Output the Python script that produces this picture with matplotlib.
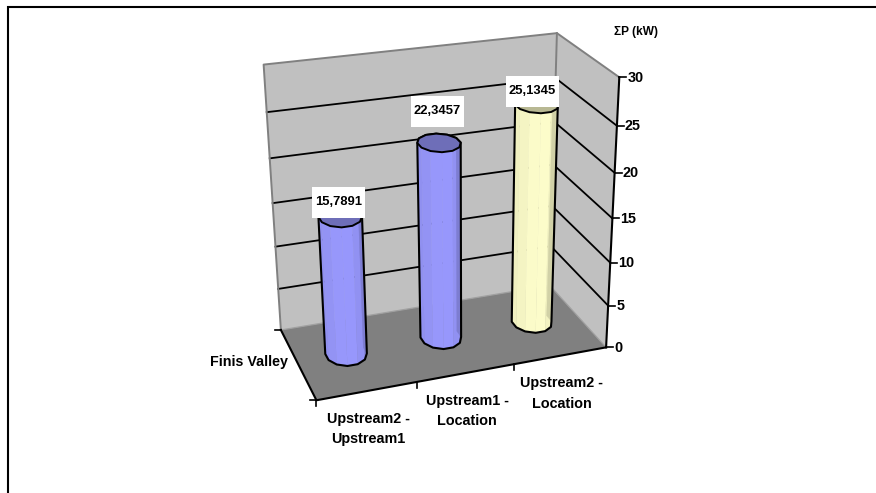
# plot.py -- 3D cylinder chart of total power per river section, drawn with a projective camera
import numpy as np
import matplotlib
matplotlib.use("Agg")
import matplotlib.pyplot as plt
from matplotlib.patches import Polygon, Rectangle

# ========================= DATA =========================
categories = ["Upstream2 -\nUpstream1", "Upstream1 -\nLocation", "Upstream2 -\nLocation"]
values = [15.7891, 22.3457, 25.1345]
value_labels = ["15,7891", "22,3457", "25,1345"]
y_ticks = [0, 5, 10, 15, 20, 25, 30]
series_name = "Finis Valley"
y_title = "ΣP (kW)"

# ========================= STYLE =========================
WALL = "#C0C0C0"
FLOOR = "#808080"
EDGE = "#808080"
BLUE = np.array([0x99, 0x99, 0xFF]) / 255
YELLOW = np.array([0xFF, 0xFF, 0xCC]) / 255
bar_colors = [BLUE, BLUE, YELLOW]
label_offsets = [(-1.5, -14.5), (-1.5, -31.5), (-4, -13.5)]
FONT = "Liberation Sans"

# Camera: box corners (x, depth, value) and where they land on the canvas
corners = [(0, 0, 0), (1, 0, 0), (0, 1, 0), (1, 1, 0), (0, 1, 30), (1, 1, 30), (1, 0, 30)]
canvas = [(317, 402), (604, 346), (280, 328), (552, 287), (264, 65), (555, 33), (621, 77)]

rows = []
rhs = []
for (x, z, y), (u, v) in zip(corners, canvas):
    rows.append([x, z, y, 1, 0, 0, 0, 0, -u * x, -u * z, -u * y])
    rows.append([0, 0, 0, 0, x, z, y, 1, -v * x, -v * z, -v * y])
    rhs += [u, v]
cam = np.linalg.lstsq(np.array(rows, float), np.array(rhs, float), rcond=None)[0]
cam = np.append(cam, 1).reshape(3, 4)


def project(x, z, y):
    p = cam @ np.array([x, z, y, 1.0])
    return p[0] / p[2], p[1] / p[2]


def hull(points):
    # monotone chain, used for the cylinder silhouette
    pts = sorted(set(map(tuple, points)))

    def half(seq):
        out = []
        for p in seq:
            while len(out) > 1 and ((out[-1][0] - out[-2][0]) * (p[1] - out[-2][1])
                                    - (out[-1][1] - out[-2][1]) * (p[0] - out[-2][0])) <= 0:
                out.pop()
            out.append(p)
        return out[:-1]

    return half(pts) + half(pts[::-1])


fig = plt.figure(figsize=(8.76, 4.93), dpi=100)
ax = fig.add_axes([0, 0, 1, 1])
ax.set_xlim(0, 876)
ax.set_ylim(493, 0)
ax.axis("off")

# outer frame, only the top and left sides show
ax.plot([8, 8, 876], [493, 7, 7], color="black", lw=1.5, solid_joinstyle="miter")

# walls and floor
ax.add_patch(Polygon([project(0, 1, 0), project(1, 1, 0), project(1, 1, 30), project(0, 1, 30)],
                     fc=WALL, ec="none", zorder=1))
ax.add_patch(Polygon([project(1, 1, 0), project(1, 0, 0), project(1, 0, 30), project(1, 1, 30)],
                     fc=WALL, ec="none", zorder=1))
ax.add_patch(Polygon([project(0, 0, 0), project(1, 0, 0), project(1, 1, 0), project(0, 1, 0)],
                     fc=FLOOR, ec="none", zorder=1))

# gridlines
for t in y_ticks[1:-1]:
    pts = [project(0, 1, t), project(1, 1, t), project(1, 0, t)]
    ax.plot(*zip(*pts), color="black", lw=1.3, zorder=2)

# wall borders
border = [project(0, 1, 0), project(0, 1, 30), project(1, 1, 30), project(1, 0, 30)]
ax.plot(*zip(*border), color=EDGE, lw=1.4, zorder=2)
ax.plot(*zip(project(1, 1, 0), project(1, 1, 30)), color=EDGE, lw=1.4, zorder=2)
ax.plot(*zip(project(0, 1, 0), project(1, 1, 0), project(1, 0, 0)), color="#A0A0A0", lw=0.9, zorder=2)

# axes lines
ax.plot(*zip(project(0, 1, 0), project(0, 0, 0), project(1, 0, 0)), color="black", lw=1.5, zorder=3)
ax.plot(*zip(project(1, 0, 0), project(1, 0, 30)), color="black", lw=1.5, zorder=3)

# value axis ticks and labels
for t in y_ticks:
    u, v = project(1, 0, t)
    ax.plot([u, u + 7], [v, v], color="black", lw=1.2, zorder=3)
    ax.text(u + 8, v + 0.5, str(t), ha="left", va="center", fontsize=10.4, fontweight="bold",
            family=FONT, color="black")

# category ticks and labels
n = len(categories)
for i in range(n):
    u, v = project(i / n, 0, 0)
    ax.plot([u, u], [v, v + 6], color="black", lw=1.2, zorder=3)
for i, name in enumerate(categories):
    u, v = project((i + 0.5) / n, 0, 0)
    ax.text(u + 1, v + 38, name, ha="center", va="center", fontsize=10.4, fontweight="bold",
            family=FONT, linespacing=1.6, color="black")

# series ticks and label on the depth axis
for depth in (0, 1):
    u, v = project(0, depth, 0)
    ax.plot([u - 6, u], [v, v], color="black", lw=1.2, zorder=3)
ax.text(288, 362, series_name, ha="right", va="center", fontsize=10.3, fontweight="bold",
        family=FONT, color="black")

ax.text(635.5, 32, y_title, ha="center", va="center", fontsize=8.6, fontweight="bold",
        family=FONT, color="black")

# cylinders, coarse ring like the faceted shapes of the chart engine
RADIUS_X = 0.068
RADIUS_Z = 0.17
FACETS = 12
angles = np.linspace(0, 2 * np.pi, FACETS + 1) + np.pi / 12
for i, (val, col, lab, off) in enumerate(zip(values, bar_colors, value_labels, label_offsets)):
    cx = (i + 0.5) / n
    cz = 0.52
    bottom = [project(cx + RADIUS_X * np.cos(a), cz + RADIUS_Z * np.sin(a), 0) for a in angles]
    top = [project(cx + RADIUS_X * np.cos(a), cz + RADIUS_Z * np.sin(a), val) for a in angles]

    # side strips, shaded towards the right edge
    for k in range(FACETS):
        mid = 0.5 * (angles[k] + angles[k + 1])
        if np.sin(mid) > 0.05:
            continue
        shade = 0.99 - 0.17 * max(0.0, np.cos(mid)) ** 2 - 0.05 * max(0.0, -np.cos(mid)) ** 3
        quad = [bottom[k], bottom[k + 1], top[k + 1], top[k]]
        ax.add_patch(Polygon(quad, fc=col * shade, ec=col * shade, lw=0.3, zorder=4))

    # silhouette
    outline = hull(bottom[:-1] + top[:-1])
    ax.add_patch(Polygon(outline, fc="none", ec="black", lw=1.5, zorder=5, joinstyle="round"))
    ax.add_patch(Polygon(top[:-1], fc=col * 0.72, ec="black", lw=1.4, zorder=5, joinstyle="round"))

    # value label on a white box
    u, v = project(cx, cz, val)
    u += off[0]
    v += off[1]
    ax.add_patch(Rectangle((u - 26.5, v - 15.5), 53, 31, fc="white", ec="none", zorder=6))
    ax.text(u, v, lab, ha="center", va="center", fontsize=9.4, fontweight="bold",
            family=FONT, color="black", zorder=7)

fig.savefig("out.png", dpi=100, facecolor="white")
